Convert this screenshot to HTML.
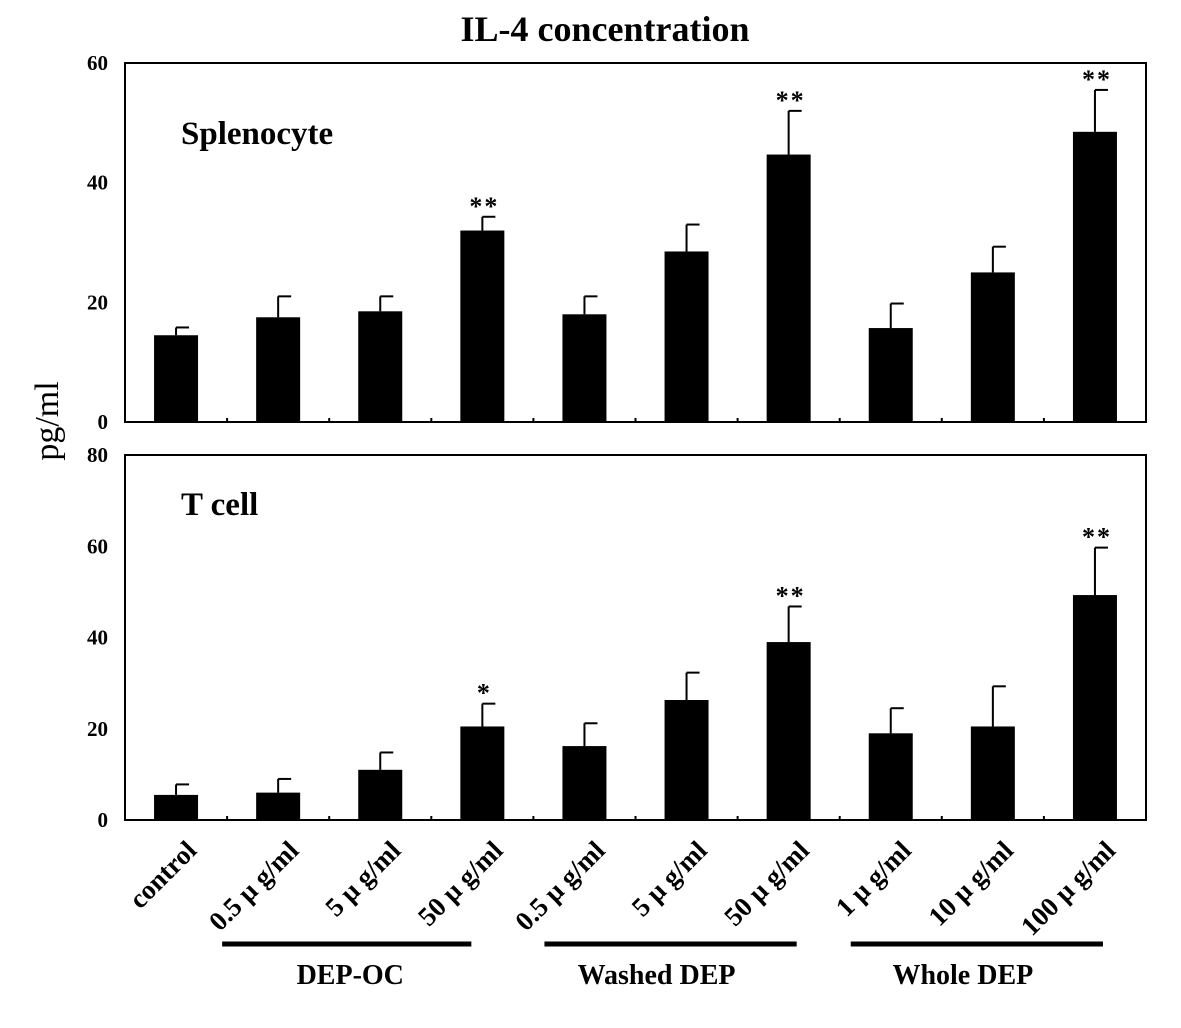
<!DOCTYPE html>
<html><head><meta charset="utf-8"><style>
body{margin:0;background:#fff}
svg{display:block;font-family:"Liberation Serif",serif}
</style></head><body>
<svg id="c" width="1181" height="1028"></svg>
<script>
const categories=["control","0.5 \u03bc g/ml","5 \u03bc g/ml","50 \u03bc g/ml","0.5 \u03bc g/ml","5 \u03bc g/ml","50 \u03bc g/ml","1 \u03bc g/ml","10 \u03bc g/ml","100 \u03bc g/ml"];
const splenoValues=[14.5,17.5,18.5,32,18,28.5,44.7,15.7,25,48.5];
const splenoErrTop=[15.8,21,21,34.3,21,33,52,19.8,29.3,55.5];
const splenoStars=["","","","**","","","**","","","**"];
const tcellValues=[5.5,6,11,20.5,16.2,26.3,39,19,20.5,49.3];
const tcellErrTop=[7.8,9,14.8,25.5,21.2,32.3,46.8,24.5,29.3,59.7];
const tcellStars=["","","","*","","","**","","","**"];
const splenoTicks=[0,20,40,60];
const tcellTicks=[0,20,40,60,80];
const groups=[{name:"DEP-OC",from:1,to:3},{name:"Washed DEP",from:4,to:6},{name:"Whole DEP",from:7,to:9}];

const svg=document.getElementById('c');
const NS="http://www.w3.org/2000/svg";
function mk(t,a,txt){const e=document.createElementNS(NS,t);for(const k in a)e.setAttribute(k,a[k]);if(txt!=null)e.textContent=txt;svg.appendChild(e);return e;}
const X0=125,X1=1146,n=categories.length,bw=(X1-X0)/n;
const xc=i=>X0+bw*(i+0.5);

function panel(name,top,bot,max,ticks,vals,errs,stars,label,labelY){
  const y=v=>bot-(v/max)*(bot-top);
  const f=mk('rect',{x:X0,y:top,width:X1-X0,height:bot-top,fill:'none',stroke:'#000','stroke-width':2});
  
  ticks.forEach(t=>{const e=mk('text',{x:108,y:y(t)+7,'text-anchor':'end','font-size':21,'font-weight':'bold'},t);
    });
  for(let i=1;i<n;i++){const e=mk('line',{x1:X0+bw*i,x2:X0+bw*i,y1:bot,y2:bot-4,stroke:'#000','stroke-width':2});
    }
  vals.forEach((v,i)=>{
    const el=mk('line',{x1:xc(i),x2:xc(i),y1:y(v),y2:y(errs[i]),stroke:'#000','stroke-width':2});
    
    const cap=mk('line',{x1:xc(i),x2:xc(i)+13,y1:y(errs[i]),y2:y(errs[i]),stroke:'#000','stroke-width':2});
    
    const b=mk('rect',{x:xc(i)-22,y:y(v),width:44,height:bot-y(v),fill:'#000'});
    
    if(stars[i]){const s=mk('text',{x:xc(i)+2,y:y(errs[i])-2,'text-anchor':'middle','font-size':26,'font-weight':'bold','letter-spacing':'2'},stars[i]);
      }
  });
  const l=mk('text',{x:181,y:labelY,'font-size':33,'font-weight':'bold'},label);
  
}
panel('splenocyte',63,422,60,splenoTicks,splenoValues,splenoErrTop,splenoStars,'Splenocyte',144);
panel('tcell',455,820,80,tcellTicks,tcellValues,tcellErrTop,tcellStars,'T cell',515);

let t=mk('text',{x:605,y:41,'text-anchor':'middle','font-size':36,'font-weight':'bold'},'IL-4 concentration');

t=mk('text',{x:0,y:0,'text-anchor':'middle','font-size':34,transform:'translate(58,421) rotate(-90)'},'pg/ml');

categories.forEach((c,i)=>{
  const e=mk('text',{x:0,y:0,'text-anchor':'end','font-size':27,'font-weight':'bold',transform:`translate(${xc(i)+22},${852}) rotate(-45)`},c);
  
});
groups.forEach((g,k)=>{
  const a=k===0?xc(g.from)-56:xc(g.from)-40,b=k===0?xc(g.to)-11:xc(g.to)+8;
  const l=mk('line',{x1:a,x2:b,y1:944,y2:944,stroke:'#000','stroke-width':5});
  
  const e=mk('text',{x:xc((g.from+g.to)/2)-30,y:984,'text-anchor':'middle','font-size':28,'font-weight':'bold'},g.name);
  
});
</script>
</body></html>
